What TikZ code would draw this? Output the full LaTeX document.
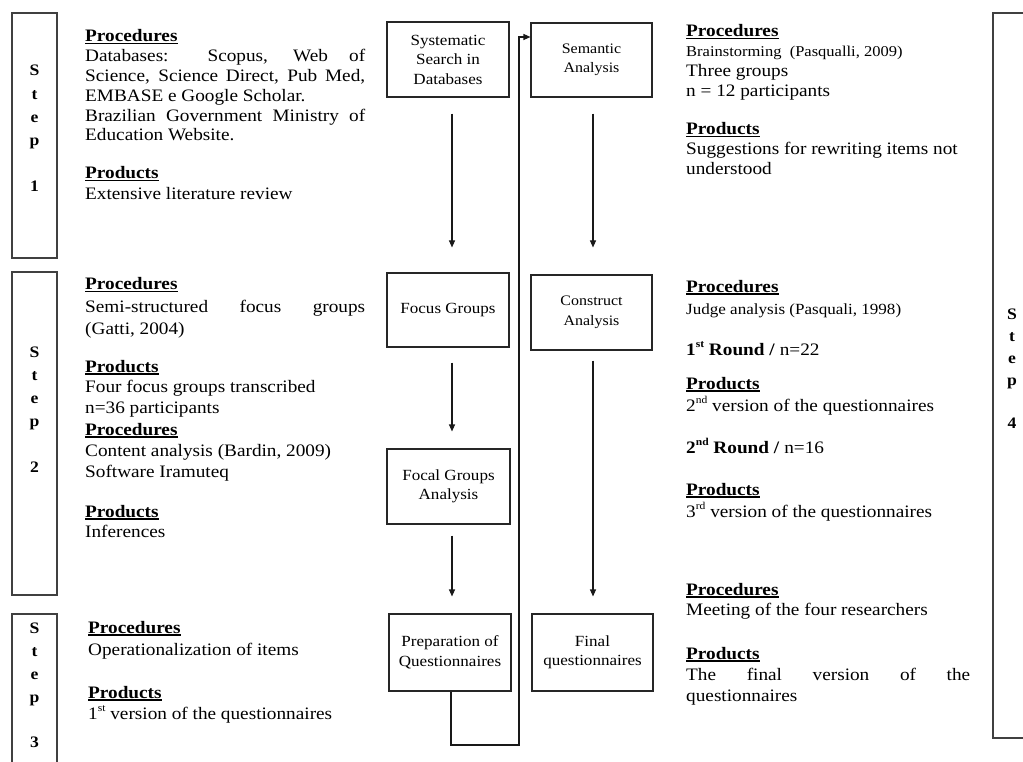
\documentclass[tikz,border=0pt]{standalone}
\usepackage{fontspec}
\setmainfont{Liberation Serif}[FakeStretch=1.1]
\usetikzlibrary{arrows.meta}
\newcommand{\hdr}[1]{\setbox0\hbox{\textbf{#1}}\rlap{\rule[-2.5pt]{\wd0}{1.3pt}}\box0}
\newcommand{\sps}[1]{\raisebox{0.42em}{\fontsize{10.5}{10.5}\selectfont #1}}
\begin{document}
\begin{tikzpicture}[x=1pt,y=-1pt,
  boxn/.style={draw=black!85, line width=1.1pt, inner sep=0pt, align=center,
    font=\fontsize{15.5}{19.5}\selectfont},
  body/.style={anchor=base west, inner sep=0pt, text width=280pt, align=justify,
    font=\fontsize{17.5}{20}\selectfont},
  bodyr/.style={body, text width=284pt},
  stepl/.style={anchor=base, inner sep=0pt, text width=20pt, align=center,
    font=\fontsize{16}{23.3}\selectfont\bfseries},
  stepbox/.style={draw=black!75, line width=1.3pt},
  arr/.style={draw=black!90, line width=1.1pt, -{Triangle[length=7pt,width=6pt]}}]
\useasboundingbox (0,0) rectangle (1023,762);

% step frames
\draw[stepbox] (12,13) rectangle (57,258);
\draw[stepbox] (12,272) rectangle (57,595);
\draw[stepbox] (12,762) -- (12,614) -- (57,614) -- (57,762);
\draw[stepbox] (1023,13) -- (993,13) -- (993,738) -- (1023,738);

% step letters
\node[stepl] (s1) at (34.5,76) {S\\t\\e\\p\\[22pt]1};
\node[stepl] (s2) at (34.5,357) {S\\t\\e\\p\\[22pt]2};
\node[stepl] (s3) at (34.5,633) {S\\t\\e\\p\\[21pt]3};
\node[stepl, font=\fontsize{16}{22.3}\selectfont\bfseries] (s4) at (1012,319) {S\\t\\e\\p\\[20pt]4};

% central boxes
\node[boxn, minimum width=122pt, minimum height=75pt] (sys) at (448,59.5) {Systematic\\Search in\\Databases};
\node[boxn, minimum width=121pt, minimum height=74pt, font=\fontsize{14.5}{19.5}\selectfont] (sem) at (591.5,60) {Semantic\\Analysis};
\node[boxn, minimum width=122pt, minimum height=74pt] (focus) at (448,310) {Focus Groups};
\node[boxn, minimum width=121pt, minimum height=75pt, font=\fontsize{14.5}{19.5}\selectfont] (cons) at (591.5,312.5) {Construct\\Analysis};
\node[boxn, minimum width=123pt, minimum height=75pt] (focal) at (448.5,486.5) {Focal Groups\\Analysis};
\node[boxn, minimum width=122pt, minimum height=77pt] (prep) at (450,652.5) {Preparation of\\Questionnaires};
\node[boxn, minimum width=121pt, minimum height=77pt] (final) at (592.5,652.5) {Final\\questionnaires};

% connectors
\coordinate (ax) at (452,0);
\coordinate (bx) at (593,0);
\coordinate (lb) at (451,745);
\coordinate (lt) at (519,37);
\draw[arr, shorten <=16pt, shorten >=25pt] (sys.south -| ax) -- (focus.north -| ax);
\draw[arr, shorten <=15pt, shorten >=17pt] (focus.south -| ax) -- (focal.north -| ax);
\draw[arr, shorten <=11pt, shorten >=17pt] (focal.south -| ax) -- (prep.north -| ax);
\draw[arr, shorten <=16pt, shorten >=27pt] (sem.south -| bx) -- (cons.north -| bx);
\draw[arr, shorten <=10pt, shorten >=17pt] (cons.south -| bx) -- (final.north -| bx);
\draw[arr] (prep.south -| lb) -- (lb) -| (lt) -- (lt -| sem.west);

% left texts
\node[body, font=\fontsize{17.5}{19.8}\selectfont] (t1a) at (85,42) {\hdr{Procedures}\\Databases: Scopus, Web of\linebreak Science, Science Direct, Pub Med,\linebreak EMBASE e Google Scholar.\\Brazilian Government Ministry of\linebreak Education Website.};
\node[body, font=\fontsize{17.5}{21}\selectfont] (t1b) at (85,179) {\hdr{Products}\\Extensive literature review};
\node[body, font=\fontsize{17.5}{22}\selectfont] (t2a) at (85,290) {\hdr{Procedures}\\Semi-structured focus groups\linebreak (Gatti, 2004)};
\node[body, font=\fontsize{17.5}{20.5}\selectfont] (t2b) at (85,372) {\hdr{Products}\\Four focus groups transcribed\\n=36 participants};
\node[body, font=\fontsize{17.5}{21}\selectfont] (t2c) at (85,435) {\hdr{Procedures}\\Content analysis (Bardin, 2009)\\Software Iramuteq};
\node[body] (t2d) at (85,517) {\hdr{Products}\\Inferences};
\node[body, font=\fontsize{17.5}{22}\selectfont] (t3a) at (88,633) {\hdr{Procedures}\\Operationalization of items};
\node[body, font=\fontsize{17.5}{21}\selectfont] (t3b) at (88,698) {\hdr{Products}\\1\sps{st} version of the questionnaires};

% right texts
\node[bodyr] (r1a) at (686,37) {\hdr{Procedures}\\{\fontsize{15}{20}\selectfont Brainstorming\ \ (Pasqualli, 2009)}\\Three groups\\n = 12 participants};
\node[bodyr] (r1b) at (686,135) {\hdr{Products}\\Suggestions for rewriting items not\\understood};
\node[bodyr, font=\fontsize{17.5}{22}\selectfont] (r2a) at (686,292) {\hdr{Procedures}\\{\fontsize{15.5}{22}\selectfont Judge analysis (Pasquali, 1998)}};
\node[bodyr] (r2b) at (686,355) {\textbf{1\sps{st} Round /} n=22};
\node[bodyr, font=\fontsize{17.5}{22}\selectfont] (r2c) at (686,389) {\hdr{Products}\\2\sps{nd} version of the questionnaires};
\node[bodyr] (r2d) at (686,453) {\textbf{2\sps{\bfseries nd} Round /} n=16};
\node[bodyr, font=\fontsize{17.5}{22}\selectfont] (r2e) at (686,495) {\hdr{Products}\\3\sps{rd} version of the questionnaires};
\node[bodyr] (r3a) at (686,595) {\hdr{Procedures}\\Meeting of the four researchers};
\node[bodyr, font=\fontsize{17.5}{21}\selectfont] (r3b) at (686,659) {\hdr{Products}\\The final version of the\linebreak questionnaires};
\end{tikzpicture}
\end{document}
